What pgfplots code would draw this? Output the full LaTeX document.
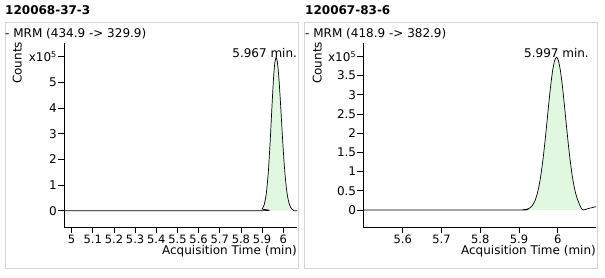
\documentclass[border=0pt]{standalone}
\usepackage{pgfplots}
\pgfplotsset{compat=1.18}
\usepackage{fontspec}
\setmainfont{DejaVu Sans}
\definecolor{peakfill}{RGB}{224,247,224}
\definecolor{framegray}{RGB}{212,212,212}
\pgfplotsset{
  chrom/.style={
    scale only axis, height=184pt,
    axis lines=left,
    axis line style={-, line width=0.8pt, black},
    tick align=outside, major tick length=6pt,
    tick style={line width=0.8pt, black},
    clip=false, scaled ticks=false,
    xlabel={Acquisition Time (min)}, ylabel={Counts},
    xlabel style={at={(axis description cs:1,0)}, anchor=base east, yshift=-27.3pt, inner sep=0pt},
    xticklabel style={anchor=base, inner sep=0pt, yshift=-11pt, font=\fontsize{11.5}{13}\selectfont},
    yticklabel style={anchor=east, inner sep=0pt, xshift=-1pt},
    /pgf/number format/assume math mode=true,
  }
}
\begin{document}
\fontsize{12}{14}\selectfont
\begin{tikzpicture}
\useasboundingbox (0,0) rectangle (605pt,278pt);
\draw[framegray, line width=0.8pt] (5pt,10pt) rectangle (298pt,256pt);
\draw[framegray, line width=0.8pt] (304pt,10pt) rectangle (597.5pt,256pt);
\node[anchor=base west, inner sep=0pt] at (5pt,263pt) {\bfseries 120068-37-3};
\node[anchor=base west, inner sep=0pt] at (305pt,263pt) {\bfseries 120067-83-6};
\node[anchor=base west, inner sep=0pt] at (5pt,240.7pt) {- MRM (434.9 -> 329.9)};
\node[anchor=base west, inner sep=0pt] at (305pt,240.7pt) {- MRM (418.9 -> 382.9)};

\begin{axis}[chrom, at={(64pt,51pt)}, anchor=south west, width=233pt,
  xmin=4.964, xmax=6.065, ymin=-0.635, ymax=6.53,
  xtick={5,5.1,5.2,5.3,5.4,5.5,5.6,5.7,5.8,5.9,6},
  xticklabels={5,5.1,5.2,5.3,5.4,5.5,5.6,5.7,5.8,5.9,6},
  ytick={0,1,2,3,4,5,6},
  yticklabels={0,1,2,3,4,5,{x10\textsuperscript{5}}},
  ylabel style={at={(axis description cs:-0.1824,1.007)}, anchor=base east, inner sep=0pt},
]
\addplot[fill=peakfill, draw=none, smooth, tension=0.35] coordinates {
(5.890,0) (5.900,0.066) (5.910,0.234) (5.920,0.671) (5.930,1.565) (5.940,2.97)
(5.945,3.785) (5.950,4.58) (5.955,5.27) (5.960,5.75) (5.966,5.97) (5.970,5.89)
(5.975,5.59) (5.980,5.10) (5.985,4.47) (5.990,3.77) (5.995,3.05) (6.000,2.37)
(6.005,1.77) (6.010,1.27) (6.015,0.87) (6.020,0.58) (6.025,0.37) (6.030,0.225)
(6.035,0.13) (6.040,0.075) (6.045,0.04) (6.050,0)};
\addplot[black, line width=0.7pt, smooth, tension=0.35] coordinates {
(4.964,0) (5.890,0) (5.900,0.066) (5.910,0.234) (5.920,0.671) (5.930,1.565) (5.940,2.97)
(5.945,3.785) (5.950,4.58) (5.955,5.27) (5.960,5.75) (5.966,5.97) (5.970,5.89)
(5.975,5.59) (5.980,5.10) (5.985,4.47) (5.990,3.77) (5.995,3.05) (6.000,2.37)
(6.005,1.77) (6.010,1.27) (6.015,0.87) (6.020,0.58) (6.025,0.37) (6.030,0.225)
(6.035,0.13) (6.040,0.075) (6.045,0.04) (6.050,0) (6.065,0)};
\node[anchor=base east, inner sep=0pt] at (axis cs:6.066,5.97) {5.967 min.};
\end{axis}

\begin{axis}[chrom, at={(363.3pt,51pt)}, anchor=south west, width=232.7pt,
  xmin=5.498, xmax=6.099, ymin=-0.443, ymax=4.35,
  xtick={5.6,5.7,5.8,5.9,6},
  xticklabels={5.6,5.7,5.8,5.9,6},
  ytick={0,4},
  yticklabels={0,{x10\textsuperscript{5}}},
  ylabel style={at={(axis description cs:-0.1796,1.007)}, anchor=base east, inner sep=0pt},
]
\addplot[fill=peakfill, draw=none, smooth, tension=0.35] coordinates {
(5.927,0) (5.932,0.087) (5.937,0.153) (5.942,0.257) (5.947,0.414) (5.952,0.636)
(5.957,0.935) (5.962,1.313) (5.967,1.762) (5.972,2.260) (5.977,2.771) (5.982,3.247)
(5.987,3.635) (5.992,3.891) (5.997,3.98) (6.002,3.891) (6.007,3.635) (6.012,3.247)
(6.017,2.771) (6.022,2.260) (6.027,1.762) (6.032,1.313) (6.037,0.935) (6.042,0.636)
(6.047,0.414) (6.052,0.257) (6.057,0.13) (6.062,0.03) (6.066,0)};
\addplot[black, line width=0.7pt, smooth, tension=0.35] coordinates {
(5.498,0) (5.900,0) (5.910,0.008) (5.917,0.015) (5.922,0.025) (5.927,0.047)
(5.932,0.087) (5.937,0.153) (5.942,0.257) (5.947,0.414) (5.952,0.636)
(5.957,0.935) (5.962,1.313) (5.967,1.762) (5.972,2.260) (5.977,2.771) (5.982,3.247)
(5.987,3.635) (5.992,3.891) (5.997,3.98) (6.002,3.891) (6.007,3.635) (6.012,3.247)
(6.017,2.771) (6.022,2.260) (6.027,1.762) (6.032,1.313) (6.037,0.935) (6.042,0.636)
(6.047,0.414) (6.052,0.257) (6.057,0.13) (6.062,0.03) (6.066,0) (6.080,0.04) (6.099,0.086)};
\node[anchor=base, inner sep=0pt] at (axis cs:5.997,3.98) {5.997 min.};
\end{axis}
% right panel intermediate y ticks (value -> height: 51pt + (v+0.443)*184/4.793)
\foreach \v/\yy in {0.5/87.20, 1/106.40, 1.5/125.59, 2/144.78, 2.5/163.98, 3/183.17, 3.5/202.37}{
  \draw[black, line width=0.8pt] (363.3pt,\yy pt) -- (357.3pt,\yy pt);
  \node[anchor=east, inner sep=0pt] at (356.3pt,\yy pt) {\v};
}
\end{tikzpicture}
\end{document}
